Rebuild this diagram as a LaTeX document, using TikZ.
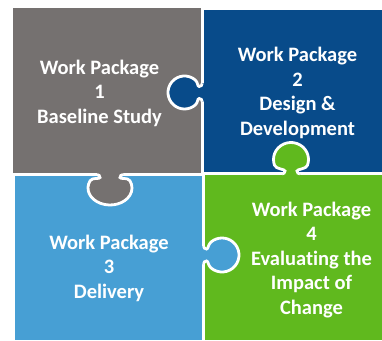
\documentclass[tikz,border=0pt]{standalone}
\usepackage{fontspec}
\setmainfont{Carlito}[Ligatures=NoCommon]
\definecolor{wpgray}{RGB}{117,113,112}
\definecolor{wpdark}{RGB}{8,75,138}
\definecolor{wplight}{RGB}{71,159,212}
\definecolor{wpgreen}{RGB}{96,185,30}
% #1 x, #2 y (gap centre), #3 rotation, #4 colour, #5 knob distance, #6 radius along axis, #7 radius across, #8 neck half width, #9 angle
\newcommand\puzzletab[9]{%
  \begin{scope}[shift={(#1,#2)},rotate=#3]
    \pgfmathsetmacro\tpPx{#5-#6*cos(#9)}
    \pgfmathsetmacro\tpPy{#7*sin(#9)}
    \pgfmathsetmacro\tpCx{\tpPx-0.25*#6*sin(#9)}
    \pgfmathsetmacro\tpCy{\tpPy-0.25*#7*cos(#9)}
    \pgfmathsetmacro\tpW{#8}
    \pgfmathsetmacro\tpWF{#8+3}
    \pgfmathsetmacro\tpSa{-180+#9}
    \pgfmathsetmacro\tpEa{180-#9}
    \fill[#4] (-4,-\tpWF) -- (0,-\tpWF) arc[start angle=180,end angle=90,radius=3]
      .. controls (5,-\tpW) and (\tpCx,-\tpCy) .. (\tpPx,-\tpPy)
      arc[start angle=\tpSa,end angle=\tpEa,x radius=#6,y radius=#7]
      .. controls (\tpCx,\tpCy) and (5,\tpW) .. (3,\tpW)
      arc[start angle=-90,end angle=-180,radius=3] -- (-4,\tpWF) -- cycle;
    \draw[white,line width=2.8] (0,-\tpWF) arc[start angle=180,end angle=90,radius=3]
      .. controls (5,-\tpW) and (\tpCx,-\tpCy) .. (\tpPx,-\tpPy)
      arc[start angle=\tpSa,end angle=\tpEa,x radius=#6,y radius=#7]
      .. controls (\tpCx,\tpCy) and (5,\tpW) .. (3,\tpW)
      arc[start angle=-90,end angle=-180,radius=3];
  \end{scope}}
\begin{document}
\begin{tikzpicture}[x=1pt,y=1pt,
  wptext/.style={text=white,font=\fontsize{20.5}{24.5}\selectfont\bfseries,align=center,inner sep=0pt}]
\useasboundingbox (0,0) rectangle (382,340);
\fill[white] (0,0) rectangle (382,340);
% pieces
\fill[wpgray]  (13.3,167) rectangle (200.7,331.7);
\fill[wpdark]  (203.7,167.5) rectangle (382,330);
\fill[wplight] (15,0) rectangle (202,164);
\fill[wpgreen] (205,0) rectangle (382,164.5);
% tabs
\puzzletab{202.2}{247.5}{180}{wpdark}{17.7}{16.5}{16.5}{6}{50}
\puzzletab{291}{166}{90}{wpgreen}{14.5}{17}{17.5}{6}{70}
\puzzletab{110}{165.5}{-90}{wpgray}{13.5}{17}{22}{10}{65}
\puzzletab{203.5}{85}{0}{wplight}{18.5}{17}{17}{6}{50}
% texts
\node[wptext] (wp1) at (99.5,247) {Work Package\\1\\Baseline Study};
\node[wptext] (wp2) at (297.5,247) {Work Package\\2\\Design \&\\Development};
\node[wptext] (wp3) at (109,72) {Work Package\\3\\Delivery};
\node[wptext] (wp4) at (311.5,80) {Work Package\\4\\Evaluating the\\Impact of\\Change};
\end{tikzpicture}
\end{document}
